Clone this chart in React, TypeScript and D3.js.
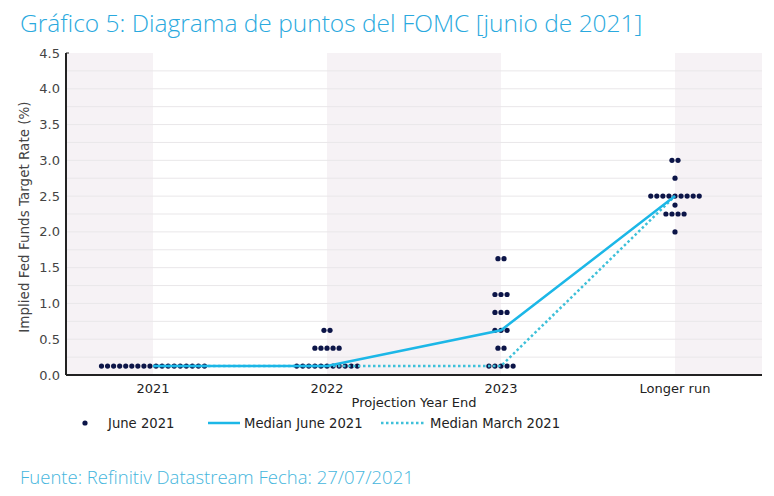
import React from "react";
import * as d3 from "d3";

const categories = ["2021", "2022", "2023", "Longer run"];
const dotLevels = [
  [0.125],
  [0.125, 0.375, 0.625],
  [0.125, 0.375, 0.625, 0.875, 1.125, 1.625],
  [2.0, 2.25, 2.375, 2.5, 2.75, 3.0],
];
const dotCounts = [
  [18],
  [11, 5, 2],
  [5, 2, 3, 3, 3, 2],
  [1, 4, 1, 9, 1, 2],
];
const medianJune2021 = [0.125, 0.125, 0.625, 2.5];
const medianMarch2021 = [0.125, 0.125, 0.125, 2.5];
const yTicks = [0, 0.5, 1, 1.5, 2, 2.5, 3, 3.5, 4, 4.5];
const gridLevels = [0.25, 0.5, 0.75, 1, 1.25, 1.5, 1.75, 2, 2.25, 2.5, 2.75, 3, 3.25, 3.5, 3.75, 4, 4.25];

const W = 774;
const H = 496;
const left = 66;
const right = 762;
const top = 53;
const bottom = 375;

const DOT = "#0c1548";
const LINE = "#1cb7e7";
const DOTTED = "#3ec0d9";
const FONT = "'DejaVu Sans', Verdana, sans-serif";

export default function App() {
  const x = d3.scalePoint<string>().domain(categories).range([left, right]).padding(0.5);
  const y = d3.scaleLinear().domain([0, 4.5]).range([bottom, top]);
  const dotGap = 6.06;

  const stops = [left, ...categories.map((c) => x(c) as number), right];
  const shaded = [0, 2, 4].map((i) => [stops[i], stops[i + 1]]);

  const line = d3
    .line<number>()
    .x((_, i) => x(categories[i]) as number)
    .y((d) => y(d));

  const dots: { cx: number; cy: number }[] = [];
  categories.forEach((c, ci) => {
    dotLevels[ci].forEach((lv, li) => {
      const n = dotCounts[ci][li];
      for (let k = 0; k < n; k++) {
        dots.push({ cx: (x(c) as number) + (k - (n - 1) / 2) * dotGap, cy: y(lv) });
      }
    });
  });

  return (
    <svg width={W} height={H} style={{ position: "absolute", left: 0, top: 0, background: "#fff" }}>
      <text x={20} y={32} fontFamily="'Open Sans', sans-serif" fontWeight={300} fontSize={24.5} fill="#2aa9de">
        Gráfico 5: Diagrama de puntos del FOMC [junio de 2021]
      </text>

      {shaded.map(([a, b], i) => (
        <rect key={i} x={a} y={top} width={b - a} height={bottom - top} fill="#f6f2f5" />
      ))}
      {gridLevels.map((g) => (
        <line key={g} x1={left} x2={right} y1={y(g)} y2={y(g)} stroke="#e9e7e9" strokeWidth={1} />
      ))}

      {dots.map((d, i) => (
        <circle key={i} cx={d.cx} cy={d.cy} r={2.6} fill={DOT} />
      ))}

      <path d={line(medianMarch2021) || ""} fill="none" stroke={DOTTED} strokeWidth={2.5} strokeDasharray="2.5,2.5" />
      <path d={line(medianJune2021) || ""} fill="none" stroke={LINE} strokeWidth={2.5} />

      <line x1={left} x2={left} y1={top} y2={bottom} stroke="#222" strokeWidth={2} />
      <line x1={left} x2={right} y1={bottom} y2={bottom} stroke="#222" strokeWidth={2} />
      <line x1={left} x2={left + 3} y1={top} y2={top} stroke="#222" strokeWidth={1} />

      {yTicks.map((t) => (
        <text key={t} x={left - 6} y={y(t) + 4.5} textAnchor="end" fontFamily={FONT} fontSize={13} fill="#444">
          {t.toFixed(1)}
        </text>
      ))}
      <text
        transform={`translate(29,${(top + bottom) / 2 + 3}) rotate(-90)`}
        textAnchor="middle"
        fontFamily={FONT}
        fontSize={13.5}
        fill="#444"
      >
        Implied Fed Funds Target Rate (%)
      </text>

      {categories.map((c) => (
        <text key={c} x={x(c) as number} y={393} textAnchor="middle" fontFamily={FONT} fontSize={13} fill="#222">
          {c}
        </text>
      ))}
      <text x={(left + right) / 2} y={407} textAnchor="middle" fontFamily={FONT} fontSize={13} fill="#222">
        Projection Year End
      </text>

      <g fontFamily={FONT} fontSize={13.2} fill="#222">
        <circle cx={85} cy={423} r={2.6} fill={DOT} />
        <text x={108} y={428}>June 2021</text>
        <line x1={208} x2={240} y1={423} y2={423} stroke={LINE} strokeWidth={2.5} />
        <text x={244} y={428}>Median June 2021</text>
        <line x1={381} x2={426} y1={423} y2={423} stroke={DOTTED} strokeWidth={2.5} strokeDasharray="2.5,2.5" />
        <text x={430} y={428}>Median March 2021</text>
      </g>

      <text x={20} y={484} fontFamily="'Open Sans', sans-serif" fontWeight={300} fontSize={18.5} fill="#45b6dd">
        Fuente: Refinitiv Datastream Fecha: 27/07/2021
      </text>
    </svg>
  );
}
